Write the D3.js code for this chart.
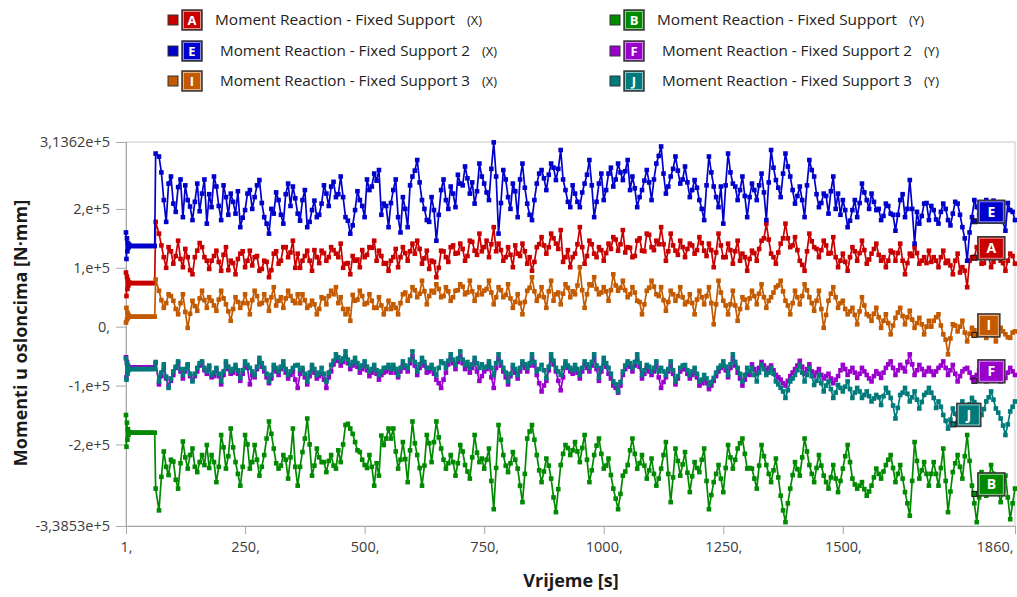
<!DOCTYPE html>
<html><head><meta charset="utf-8">
<script src="https://cdn.jsdelivr.net/npm/d3@7"></script>
<style>
body{margin:0;background:#fff;}
svg{display:block;font-family:"Open Sans","Noto Sans",sans-serif;}
</style>
</head><body><svg id="c" width="1017" height="597"></svg>
<script>
// ---- data (values in thousands of N·mm) ----
const timeStart = [1,2,3,4,5,6,8,10,15,20,25,30,35,40,45,50,55,61,63];
const timeMain = d3.range(70, 1861, 10);   // 70 ... 1860
const timeMid = d3.range(75, 1860, 10);    // 75 ... 1855

const seriesKeys = ["A","B","E","F","I","J"];
const seriesNames = [
  "Moment Reaction - Fixed Support",
  "Moment Reaction - Fixed Support",
  "Moment Reaction - Fixed Support 2",
  "Moment Reaction - Fixed Support 2",
  "Moment Reaction - Fixed Support 3",
  "Moment Reaction - Fixed Support 3"];
const seriesAxis = ["(X)","(Y)","(X)","(Y)","(X)","(Y)"];
const seriesColors = ["#c80000","#008a00","#0000cc","#9a00cc","#c35a00","#007a7a"];

// start segment (timeStart) + main samples (timeMain)
const valuesA = [92,52,85,64,79,70,75,74,74,74,74,74,74,74,74,74,74,74,178,
158,118,135,107,146,101,118,89,129,135,112,
112,129,95,135,112,89,124,101,129,118,95,112,84,124,107,135,118,146,124,
112,129,95,118,129,112,135,124,141,107,89,112,101,118,135,146,129,107,95,
118,101,135,112,141,146,107,129,112,84,129,118,135,124,141,112,146,129,158,
135,118,169,141,112,135,101,124,141,107,95,135,152,124,158,141,164,118,101,
124,169,107,146,124,135,112,141,152,129,164,135,118,146,129,158,135,146,169,
112,158,129,146,118,141,124,152,129,141,101,158,118,141,107,146,124,95,
129,112,146,175,124,107,141,175,135,152,112,95,158,135,118,146,124,152,101,
124,95,135,112,146,107,124,141,112,101,129,112,141,89,124,135,107,118,129,
118,101,129,112,89,124,101,67,118,135,107,124,101,129,112,95,124,107];
const midA = [138,100,128,120,115,132,96,118,142,118,
98,120,110,122,96,108,115,128,112,104,120,98,110,96,128,112,135,126,100,
100,120,112,130,108,125,118,130,118,100,108,120,114,130,122,134,112,120,108,
112,132,118,125,128,124,132,116,98,110,100,128,110,138,125,132,120,144,122,
128,146,140,128,130,118,122,138,120,128,118,110,140,138,135,150,132,110,130,
118,140,135,120,140,118,130,125,132,148,140,126,134,120,150,128,156,130,140,
140,128,138,122,135,132,138,130,142,120,130,126,138,118,130,128,112,118,
115,125,132,150,148,118,126,150,150,138,130,105,128,145,132,130,138,125,118,
112,110,118,128,125,130,114,132,122,118,112,126,125,112,108,120,125,112,108,
110,112,118,108,104,112,92,95,112,118,126,108,118,110,118,108,112,120];

const valuesB = [-150,-204,-163,-192,-174,-184,-179,-180,-180,-180,-180,-180,-180,-180,-180,-180,-180,-180,-275,
-312,-212,-252,-229,-275,-195,-241,-207,-247,-218,-201,
-218,-264,-184,-241,-173,-230,-270,-184,-241,-201,-253,-218,-161,-207,-241,-218,-258,-173,-270,
-213,-156,-253,-207,-230,-247,-218,-241,-230,-167,-173,-196,-213,-235,-218,-270,-253,-201,-173,
-173,-241,-196,-264,-161,-218,-270,-184,-230,-161,-207,-241,-218,-253,-201,-235,-258,-184,-230,
-241,-207,-310,-167,-218,-247,-213,-241,-298,-190,-167,-218,-264,-224,-258,-315,-235,-201,-218,
-196,-230,-184,-264,-218,-190,-241,-224,-275,-310,-253,-235,-190,-241,-218,-258,-224,-270,-241,
-196,-298,-207,-253,-213,-281,-230,-247,-207,-310,-264,-235,-281,-201,-241,-207,-190,-241,
-241,-275,-201,-235,-264,-224,-287,-332,-275,-230,-253,-190,-235,-264,-218,-253,-275,-235,-281,
-241,-201,-258,-275,-264,-287,-270,-241,-258,-235,-218,-264,-235,-281,-321,-196,-258,-230,-270,
-230,-270,-207,-315,-247,-218,-258,-184,-270,-332,-247,-287,-235,-264,-298,-253,-327,-275];
const midB = [-255,-238,-226,-260,-232,-222,-218,-238,-230,-235,
-240,-230,-238,-205,-220,-205,-250,-238,-200,-230,-226,-238,-190,-182,-232,-236,-226,-222,-238,
-238,-190,-200,-236,-222,-230,-228,-236,-210,-200,-165,-182,-210,-226,-240,-238,-232,-185,-190,
-190,-212,-226,-225,-210,-198,-240,-236,-198,-196,-188,-226,-232,-230,-232,-212,-246,-222,-214,
-224,-226,-262,-240,-192,-236,-232,-226,-270,-250,-178,-192,-244,-246,-236,-290,-276,-216,-206,
-210,-212,-206,-226,-244,-202,-216,-236,-252,-292,-284,-246,-210,-216,-232,-236,-244,-250,-258,
-218,-250,-256,-228,-234,-248,-254,-240,-226,-262,-286,-250,-258,-240,-222,-226,-198,-216,
-240,-258,-236,-220,-250,-244,-256,-312,-300,-252,-242,-222,-212,-250,-240,-236,-264,-256,-258,
-262,-220,-230,-268,-270,-276,-280,-256,-250,-246,-226,-240,-250,-258,-300,-262,-228,-244,-250,
-250,-250,-240,-262,-280,-232,-238,-220,-228,-300,-290,-266,-262,-250,-280,-276,-290,-300];

const valuesE = [160,115,150,128,142,134,139,137,137,137,137,137,137,137,137,137,137,137,294,
289,215,243,209,237,186,215,181,243,226,175,
203,238,181,220,226,192,169,198,232,220,249,186,158,192,215,175,243,238,192,
215,169,198,186,209,226,238,220,255,186,158,198,215,186,232,260,266,209,169,
232,186,220,169,255,283,215,181,220,146,232,215,238,203,243,272,226,209,277,
243,215,313,158,266,220,243,186,277,209,181,243,266,232,277,249,300,232,203,
226,203,243,283,186,243,215,260,238,277,249,283,255,203,232,266,215,277,306,
226,255,289,243,272,220,249,215,181,289,238,203,175,294,243,215,255,186,
243,215,260,181,300,249,220,294,255,209,238,186,283,255,203,226,192,255,226,
215,169,198,186,243,215,226,198,181,209,192,163,215,186,249,141,175,209,181,
198,175,209,181,192,209,169,112,186,203,181,215,192,209,181,163,198,181];
const midE = [262,178,255,195,250,240,204,212,196,250,
225,255,205,240,190,212,230,185,226,200,240,210,175,200,228,190,225,205,218,
180,232,178,214,190,240,205,246,225,220,180,172,230,205,250,238,248,190,205,
210,250,160,200,240,265,245,200,178,198,190,250,200,226,258,240,252,245,230,
255,228,268,255,210,250,200,230,250,236,190,215,260,252,258,270,268,250,212,
240,212,228,258,240,212,260,232,270,250,262,264,232,235,220,248,245,250,290,
260,238,268,265,250,245,232,236,200,240,262,220,238,240,262,238,232,222,
220,232,240,228,245,270,236,260,272,232,222,215,240,266,225,210,222,230,200,
190,198,180,215,210,228,200,212,200,188,205,190,190,225,200,200,195,188,210,
205,182,195,200,172,212,190,150,160,215,190,200,180,214,200,178,210,195];

const valuesF = [-52,-86,-60,-78,-66,-70,-69,-69,-69,-69,-69,-69,-69,-69,-69,-69,-69,-69,-62,
-98,-70,-100,-82,-62,-88,-66,-90,-76,-62,-80,
-86,-74,-98,-64,-80,-70,-92,-66,-98,-86,-60,-76,-96,-70,-82,-66,-88,-76,-104,
-74,-98,-70,-88,-80,-104,-76,-56,-66,-50,-72,-60,-78,-66,-84,-72,-90,-78,-72,
-70,-86,-66,-76,-50,-82,-60,-78,-72,-90,-104,-78,-54,-72,-50,-72,-78,-60,-92,
-76,-64,-104,-54,-76,-98,-70,-88,-64,-76,-54,-82,-110,-92,-54,-76,-108,-64,-76,
-70,-88,-64,-76,-54,-92,-60,-80,-100,-112,-82,-64,-76,-54,-88,-70,-82,-66,-104,
-86,-66,-98,-76,-72,-88,-78,-100,-90,-106,-92,-76,-66,-86,-54,-78,-100,-80,
-64,-80,-60,-74,-66,-82,-90,-100,-84,-72,-58,-80,-64,-84,-72,-88,-80,-96,-84,
-65,-82,-70,-87,-70,-82,-93,-76,-87,-70,-59,-82,-65,-76,-47,-82,-65,-82,-70,
-82,-70,-59,-82,-65,-93,-76,-70,-87,-82,-65,-93,-82,-70,-93,-87,-70,-82];
const midF = [-84,-88,-92,-70,-76,-76,-84,-84,-66,-74,
-70,-84,-84,-82,-72,-78,-80,-80,-70,-82,-72,-68,-86,-88,-76,-72,-78,-82,-90,
-80,-86,-84,-78,-84,-90,-86,-64,-58,-60,-62,-66,-68,-72,-74,-78,-80,-82,-76,
-78,-78,-76,-70,-62,-66,-70,-66,-76,-80,-96,-90,-64,-62,-60,-62,-66,-70,-76,
-84,-72,-86,-70,-66,-86,-84,-78,-76,-70,-66,-66,-96,-100,-74,-64,-92,-86,-70,
-80,-78,-76,-70,-66,-72,-76,-68,-88,-104,-100,-72,-68,-66,-68,-80,-76,-76,-86,
-94,-76,-80,-88,-72,-80,-82,-86,-96,-96,-100,-84,-70,-74,-70,-66,-88,-90,
-82,-72,-70,-66,-70,-74,-86,-96,-92,-78,-66,-68,-72,-76,-78,-82,-84,-88,-90,
-74,-72,-76,-78,-80,-76,-88,-84,-80,-78,-64,-70,-74,-70,-60,-64,-74,-72,-76,
-76,-76,-66,-70,-74,-80,-84,-72,-78,-86,-74,-80,-88,-76,-82,-90,-78,-76];

const valuesI = [7,32,12,24,15,20,17,17,17,17,17,17,17,17,17,17,17,17,80,
61,32,55,44,21,55,-2,44,27,61,32,
44,27,61,38,10,50,32,55,21,61,38,55,27,67,44,32,61,44,55,
55,32,44,21,50,38,61,67,50,21,10,44,61,38,55,32,50,21,44,
38,21,55,44,67,50,78,38,61,72,50,67,44,61,72,55,78,44,67,
61,78,38,67,50,72,32,55,21,61,84,44,67,32,78,55,38,72,50,
55,101,32,72,84,55,67,44,89,61,78,50,67,44,21,61,78,55,67,
27,61,44,67,38,55,21,61,38,67,4,78,44,21,61,10,50,32,
61,38,72,32,50,67,78,44,21,61,38,72,50,27,61,-2,44,67,32,
44,21,32,4,50,21,10,32,-2,21,-13,15,32,4,27,-2,15,-13,10,
10,21,-13,-47,4,-8,10,-25,-2,-13,4,-19,-8,-25,-2,-13,-19,-8];
const midI = [45,40,52,30,40,25,22,35,48,45,
50,36,46,48,26,30,42,40,40,45,52,40,45,50,36,50,48,52,40,
40,45,36,38,30,48,52,55,40,30,30,54,46,52,40,44,32,36,30,
30,32,40,58,52,62,56,60,52,58,64,52,60,50,62,68,58,60,54,
55,64,58,50,62,54,48,42,40,42,66,60,52,50,60,44,58,56,66,
60,70,62,55,70,64,58,60,62,70,66,62,55,58,42,38,66,68,52,
45,42,55,52,50,42,40,46,50,52,40,38,58,36,38,36,30,46,
48,52,56,50,44,58,70,60,36,40,50,52,62,40,44,30,20,56,50,
40,30,26,20,26,36,18,22,16,10,6,2,24,18,16,12,6,4,0,
0,16,2,-22,-20,2,0,-10,-12,-6,-6,-6,-12,-15,-12,-8,-18,-10];

const valuesJ = [-54,-90,-62,-80,-68,-74,-72,-72,-72,-72,-72,-72,-72,-72,-72,-72,-72,-72,-60,
-93,-64,-104,-76,-59,-82,-64,-93,-70,-59,-76,
-82,-70,-93,-59,-76,-65,-87,-59,-70,-82,-53,-70,-93,-65,-76,-59,-82,-70,-65,
-70,-93,-65,-82,-70,-93,-65,-47,-59,-42,-65,-53,-70,-59,-76,-65,-82,-70,-65,
-65,-82,-59,-70,-42,-76,-53,-70,-65,-82,-59,-70,-47,-65,-42,-65,-70,-53,-70,
-70,-59,-82,-47,-70,-93,-65,-82,-59,-70,-47,-76,-65,-87,-47,-70,-82,-59,-70,
-65,-82,-59,-70,-47,-87,-53,-70,-93,-110,-76,-59,-70,-47,-82,-65,-76,-59,-70,
-82,-59,-93,-70,-65,-82,-70,-93,-82,-99,-87,-70,-59,-82,-47,-70,-93,-70,
-70,-93,-65,-82,-70,-93,-104,-121,-93,-82,-65,-93,-70,-99,-82,-110,-93,-121,-99,
-110,-93,-121,-104,-121,-110,-127,-116,-133,-104,-121,-156,-116,-104,-127,-110,-139,-116,-104,
-121,-127,-150,-173,-139,-161,-127,-144,-121,-133,-150,-127,-110,-139,-156,-184,-144,-127];
const midJ = [-78,-85,-88,-68,-72,-72,-80,-80,-62,-70,
-66,-78,-80,-76,-68,-72,-74,-74,-65,-76,-68,-62,-80,-82,-70,-68,-72,-76,-66,
-74,-80,-78,-72,-78,-80,-78,-58,-52,-54,-56,-60,-62,-66,-68,-72,-74,-76,-70,
-72,-72,-70,-66,-56,-60,-64,-60,-70,-72,-70,-62,-58,-56,-54,-56,-60,-64,-62,
-64,-68,-70,-62,-60,-78,-80,-72,-70,-64,-62,-60,-72,-74,-68,-58,-76,-70,-66,
-74,-72,-70,-64,-60,-66,-70,-62,-80,-98,-94,-66,-62,-60,-62,-74,-68,-70,-76,
-76,-72,-74,-84,-66,-74,-76,-80,-90,-88,-94,-78,-66,-68,-64,-60,-80,-82,
-76,-82,-78,-72,-78,-80,-98,-110,-108,-88,-74,-78,-82,-84,-92,-96,-100,-106,-112,
-104,-102,-106,-112,-110,-116,-118,-122,-120,-118,-112,-134,-138,-112,-114,-120,-124,-128,-112,
-112,-138,-136,-160,-158,-148,-140,-136,-132,-128,-140,-140,-120,-124,-146,-168,-166,-136];

const seriesValues = [valuesA, valuesB, valuesE, valuesF, valuesI, valuesJ];
const seriesMid = [midA, midB, midE, midF, midI, midJ];

const yTickValues = [313.62, 200, 100, 0, -100, -200, -338.53];
const yTickLabels = ["3,1362e+5","2,e+5","1,e+5","0,","-1,e+5","-2,e+5","-3,3853e+5"];
const xTickValues = [1, 250, 500, 750, 1000, 1250, 1500, 1860];
const xTickLabels = ["1,","250,","500,","750,","1000,","1250,","1500,","1860,"];

// end-of-curve annotation anchors
const annoKeys = ["E","A","I","F","J","B"];
const annoTime = [1775, 1775, 1775, 1775, 1731, 1775];
const annoValue = [179, 117, -14, -92, -166, -284];

// ---- drawing ----
(function () {
const svg = d3.select("#c");
const W = 1017, H = 597;
const pL = 126, pR = 1015, pT = 142, pB = 526;
const tickFont = "'Open Sans','Noto Sans',sans-serif";

svg.append("rect").attr("width", W).attr("height", H).attr("fill", "#fff");

const x = d3.scaleLinear().domain([1, 1860]).range([pL, pR]);
const y = d3.scaleLinear().domain([-338.53, 313.62]).range([pB, pT]);

svg.append("rect").attr("x", pL).attr("y", pT).attr("width", pR - pL).attr("height", pB - pT)
  .attr("fill", "none").attr("stroke", "#c8c8c8").attr("stroke-width", 1);

const yAxis = d3.axisLeft(y).tickValues(yTickValues).tickSize(10)
  .tickFormat((d, i) => yTickLabels[i]);
const gy = svg.append("g").attr("transform", `translate(${pL},0)`).call(yAxis);
gy.select(".domain").attr("stroke", "#a8a8a8");
gy.selectAll(".tick line").attr("stroke", "#a8a8a8");
gy.selectAll(".tick text").attr("font-size", 14.5).attr("fill", "#3c3c3c").attr("x", -16)
  .attr("font-family", tickFont);

const xAxis = d3.axisBottom(x).tickValues(xTickValues).tickSize(8)
  .tickFormat((d, i) => xTickLabels[i]);
const gx = svg.append("g").attr("transform", `translate(0,${pB})`).call(xAxis);
gx.select(".domain").attr("stroke", "#a8a8a8");
gx.selectAll(".tick line").attr("stroke", "#a8a8a8");
gx.selectAll(".tick text").attr("font-size", 14.5).attr("fill", "#3c3c3c").attr("y", 16)
  .attr("font-family", tickFont);
gx.selectAll(".tick text").filter((d, i) => i === xTickValues.length - 1).attr("text-anchor", "end").attr("dx", -2);

svg.append("text").attr("x", 571).attr("y", 587).attr("text-anchor", "middle")
  .attr("font-size", 18).attr("font-weight", "bold").attr("fill", "#1a1a1a").text("Vrijeme [s]");
svg.append("text").attr("transform", "translate(27,333) rotate(-90)").attr("text-anchor", "middle")
  .attr("font-size", 18).attr("font-weight", "bold").attr("fill", "#1a1a1a").text("Momenti u osloncima [N·mm]");

// series
const plot = svg.append("g");
const line = d3.line().x(d => x(d[0])).y(d => y(d[1]));
seriesKeys.forEach((k, si) => {
  const vals = seriesValues[si], mids = seriesMid[si];
  const tFirst = timeStart.concat(timeMain);
  const pts = tFirst.map((t, i) => [t, vals[i]])
    .concat(timeMid.map((t, i) => [t, mids[i]]))
    .filter(p => p[1] !== undefined)
    .sort((a, b) => a[0] - b[0]);
  const g = plot.append("g");
  g.append("path").datum(pts).attr("d", line).attr("fill", "none")
    .attr("stroke", seriesColors[si]).attr("stroke-width", 1.7).attr("stroke-linejoin", "round");
  g.selectAll("rect").data(pts).join("rect")
    .attr("x", d => x(d[0]) - 2.3).attr("y", d => y(d[1]) - 2.3)
    .attr("width", 4.6).attr("height", 4.6).attr("fill", seriesColors[si]);
});

function letterBox(g, bx, by, w, h, color, letter, fs) {
  g.append("rect").attr("x", bx).attr("y", by).attr("width", w).attr("height", h)
    .attr("fill", color).attr("stroke", "#3a3a3a").attr("stroke-width", 1.5);
  g.append("rect").attr("x", bx + 1.5).attr("y", by + 1.5).attr("width", w - 3).attr("height", h - 3)
    .attr("fill", "none").attr("stroke", "#ffffff").attr("stroke-opacity", 0.55).attr("stroke-width", 1);
  g.append("text").attr("x", bx + w / 2).attr("y", by + h / 2 + fs * 0.36).attr("text-anchor", "middle")
    .attr("font-size", fs).attr("font-weight", "bold").attr("fill", "#fff").text(letter);
}
const annoG = svg.append("g");
annoKeys.forEach((k, i) => {
  const si = seriesKeys.indexOf(k);
  const ax = x(annoTime[i]), ay = y(annoValue[i]);
  const w = k === "I" ? 22 : (k === "J" ? 24 : 27);
  letterBox(annoG, ax + 3.5, ay + 2 - 23, w, 23, seriesColors[si], k, 14);
  annoG.append("rect").attr("x", ax - 2.5).attr("y", ay - 2.5).attr("width", 5).attr("height", 5)
    .attr("fill", seriesColors[si]).attr("stroke", "#111").attr("stroke-width", 1);
});

// legend
const legendOrder = ["A","B","E","F","I","J"];
const legRowY = {A: 20, B: 20, E: 51, F: 51, I: 81, J: 81};
const legColX = {A: 168, E: 168, I: 168, B: 610, F: 610, J: 610};
const lg = svg.append("g");
legendOrder.forEach(k => {
  const si = seriesKeys.indexOf(k);
  const cx = legColX[k], cy = legRowY[k];
  lg.append("rect").attr("x", cx).attr("y", cy - 5).attr("width", 10).attr("height", 10)
    .attr("fill", seriesColors[si]).attr("stroke", "#333").attr("stroke-width", 1);
  letterBox(lg, cx + 14, cy - 10, 20, 20, seriesColors[si], k, 13);
  const isFirst = (k === "A" || k === "B");
  const tx = cx + (isFirst ? 47 : 52);
  lg.append("text").attr("x", tx).attr("y", cy + 5).attr("font-size", 15).attr("fill", "#222")
    .attr("textLength", isFirst ? 240 : 250).attr("lengthAdjust", "spacingAndGlyphs")
    .text(seriesNames[si]);
  const axX = isFirst ? cx + 299 : cx + 314;
  lg.append("text").attr("x", axX).attr("y", cy + 5).attr("font-size", 13).attr("fill", "#222")
    .attr("textLength", 15).attr("lengthAdjust", "spacingAndGlyphs").text(seriesAxis[si]);
});
})();
</script></body></html>
